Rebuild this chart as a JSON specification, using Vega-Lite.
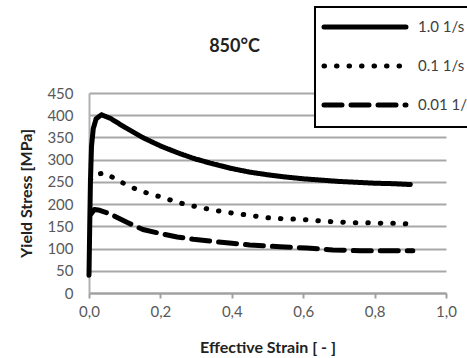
{
  "$schema": "https://vega.github.io/schema/vega-lite/v6.json",
  "autosize": {"type": "none"},
  "width": 357,
  "height": 200,
  "padding": {"left": 89, "top": 93, "right": 21, "bottom": 65},
  "background": "white",
  "config": {
    "view": {"stroke": null},
    "font": "Lato",
    "legend": {"strokeWidth": 2}
  },
  "title": {
    "text": "850°C",
    "fontSize": 18,
    "fontWeight": "bold",
    "color": "#222222",
    "font": "Lato",
    "anchor": "middle",
    "dx": -33,
    "offset": 0,
    "dy": 50
  },
  "data": {
    "values": [
      {"series": "1.0 1/s", "strain": 0.0, "stress": 40},
      {"series": "1.0 1/s", "strain": 0.002, "stress": 150},
      {"series": "1.0 1/s", "strain": 0.004, "stress": 250},
      {"series": "1.0 1/s", "strain": 0.007, "stress": 330},
      {"series": "1.0 1/s", "strain": 0.012, "stress": 370},
      {"series": "1.0 1/s", "strain": 0.02, "stress": 392},
      {"series": "1.0 1/s", "strain": 0.035, "stress": 401},
      {"series": "1.0 1/s", "strain": 0.06, "stress": 393},
      {"series": "1.0 1/s", "strain": 0.1, "stress": 373},
      {"series": "1.0 1/s", "strain": 0.15, "stress": 350},
      {"series": "1.0 1/s", "strain": 0.2, "stress": 331},
      {"series": "1.0 1/s", "strain": 0.25, "stress": 315},
      {"series": "1.0 1/s", "strain": 0.3, "stress": 301},
      {"series": "1.0 1/s", "strain": 0.35, "stress": 290},
      {"series": "1.0 1/s", "strain": 0.4, "stress": 280},
      {"series": "1.0 1/s", "strain": 0.45, "stress": 272},
      {"series": "1.0 1/s", "strain": 0.5, "stress": 266},
      {"series": "1.0 1/s", "strain": 0.55, "stress": 261},
      {"series": "1.0 1/s", "strain": 0.6, "stress": 257},
      {"series": "1.0 1/s", "strain": 0.65, "stress": 254},
      {"series": "1.0 1/s", "strain": 0.7, "stress": 251},
      {"series": "1.0 1/s", "strain": 0.75, "stress": 249},
      {"series": "1.0 1/s", "strain": 0.8, "stress": 247},
      {"series": "1.0 1/s", "strain": 0.85, "stress": 246},
      {"series": "1.0 1/s", "strain": 0.9, "stress": 244},
      {"series": "0.1 1/s", "strain": 0.004, "stress": 255},
      {"series": "0.1 1/s", "strain": 0.017, "stress": 267},
      {"series": "0.1 1/s", "strain": 0.045, "stress": 270},
      {"series": "0.1 1/s", "strain": 0.073, "stress": 257},
      {"series": "0.1 1/s", "strain": 0.106, "stress": 243},
      {"series": "0.1 1/s", "strain": 0.137, "stress": 232},
      {"series": "0.1 1/s", "strain": 0.17, "stress": 223},
      {"series": "0.1 1/s", "strain": 0.207, "stress": 215},
      {"series": "0.1 1/s", "strain": 0.24, "stress": 206},
      {"series": "0.1 1/s", "strain": 0.277, "stress": 198},
      {"series": "0.1 1/s", "strain": 0.32, "stress": 191},
      {"series": "0.1 1/s", "strain": 0.36, "stress": 185},
      {"series": "0.1 1/s", "strain": 0.4, "stress": 180},
      {"series": "0.1 1/s", "strain": 0.465, "stress": 173},
      {"series": "0.1 1/s", "strain": 0.504, "stress": 169},
      {"series": "0.1 1/s", "strain": 0.543, "stress": 167},
      {"series": "0.1 1/s", "strain": 0.583, "stress": 166},
      {"series": "0.1 1/s", "strain": 0.62, "stress": 164},
      {"series": "0.1 1/s", "strain": 0.66, "stress": 161},
      {"series": "0.1 1/s", "strain": 0.7, "stress": 160},
      {"series": "0.1 1/s", "strain": 0.74, "stress": 158},
      {"series": "0.1 1/s", "strain": 0.78, "stress": 158},
      {"series": "0.1 1/s", "strain": 0.82, "stress": 157},
      {"series": "0.1 1/s", "strain": 0.86, "stress": 157},
      {"series": "0.1 1/s", "strain": 0.9, "stress": 155},
      {"series": "0.01 1/s", "strain": 0.006, "stress": 178},
      {"series": "0.01 1/s", "strain": 0.015, "stress": 188},
      {"series": "0.01 1/s", "strain": 0.03, "stress": 186},
      {"series": "0.01 1/s", "strain": 0.059, "stress": 178},
      {"series": "0.01 1/s", "strain": 0.106, "stress": 159},
      {"series": "0.01 1/s", "strain": 0.151, "stress": 143},
      {"series": "0.01 1/s", "strain": 0.199, "stress": 134},
      {"series": "0.01 1/s", "strain": 0.247, "stress": 126},
      {"series": "0.01 1/s", "strain": 0.292, "stress": 121},
      {"series": "0.01 1/s", "strain": 0.35, "stress": 116},
      {"series": "0.01 1/s", "strain": 0.4, "stress": 112},
      {"series": "0.01 1/s", "strain": 0.45, "stress": 108},
      {"series": "0.01 1/s", "strain": 0.535, "stress": 104},
      {"series": "0.01 1/s", "strain": 0.61, "stress": 101},
      {"series": "0.01 1/s", "strain": 0.683, "stress": 97},
      {"series": "0.01 1/s", "strain": 0.76, "stress": 95},
      {"series": "0.01 1/s", "strain": 0.843, "stress": 95},
      {"series": "0.01 1/s", "strain": 0.907, "stress": 95}
    ]
  },
  "mark": {"type": "line", "color": "black", "strokeWidth": 5, "strokeCap": "round", "strokeJoin": "round"},
  "encoding": {
    "x": {
      "field": "strain",
      "type": "quantitative",
      "scale": {"domain": [0, 1], "nice": false},
      "axis": {
        "title": "Effective Strain [ - ]",
        "titleFont": "Lato",
        "titleFontSize": 16,
        "titleFontWeight": "bold",
        "titleColor": "#222222",
        "titlePadding": 20,
        "values": [0, 0.2, 0.4, 0.6, 0.8, 1.0],
        "labelExpr": "replace(format(datum.value, '.1f'), '.', ',')",
        "labelFont": "Lato",
        "labelFontSize": 15,
        "labelColor": "#595959",
        "labelPadding": 6,
        "labelFlush": false,
        "grid": false,
        "domainColor": "#a0a0a0",
        "domainWidth": 2,
        "tickColor": "#a0a0a0",
        "tickSize": 5,
        "tickWidth": 2
      }
    },
    "y": {
      "field": "stress",
      "type": "quantitative",
      "scale": {"domain": [0, 450], "nice": false},
      "axis": {
        "title": "Yield Stress [MPa]",
        "titleFont": "Lato",
        "titleFontSize": 16,
        "titleFontWeight": "bold",
        "titleColor": "#222222",
        "titlePadding": 12,
        "values": [0, 50, 100, 150, 200, 250, 300, 350, 400, 450],
        "labelFont": "Lato",
        "labelFontSize": 15,
        "labelColor": "#595959",
        "labelPadding": 16,
        "ticks": false,
        "grid": true,
        "gridColor": "#a8a8a8",
        "gridWidth": 2,
        "domainColor": "#b0b0b0",
        "domainWidth": 2
      }
    },
    "strokeDash": {
      "field": "series",
      "type": "nominal",
      "scale": {"domain": ["1.0 1/s", "0.1 1/s", "0.01 1/s"], "range": [[1, 0], [0.5, 12], [18, 9]]},
      "legend": {
        "title": null,
        "orient": "none",
        "legendX": 226,
        "legendY": -86,
        "fillColor": "white",
        "strokeColor": "black",
        "padding": 12,
        "symbolType": "M-8,0H8",
        "symbolSize": 105,
        "symbolOffset": 30,
        "symbolStrokeWidth": 5,
        "symbolStrokeColor": "black",
        "rowPadding": 19,
        "labelFont": "Lato",
        "labelFontSize": 15,
        "labelColor": "#404040",
        "labelOffset": 45,
        "encode": {"symbols": {"update": {"strokeCap": {"value": "round"}}}}
      }
    }
  }
}
